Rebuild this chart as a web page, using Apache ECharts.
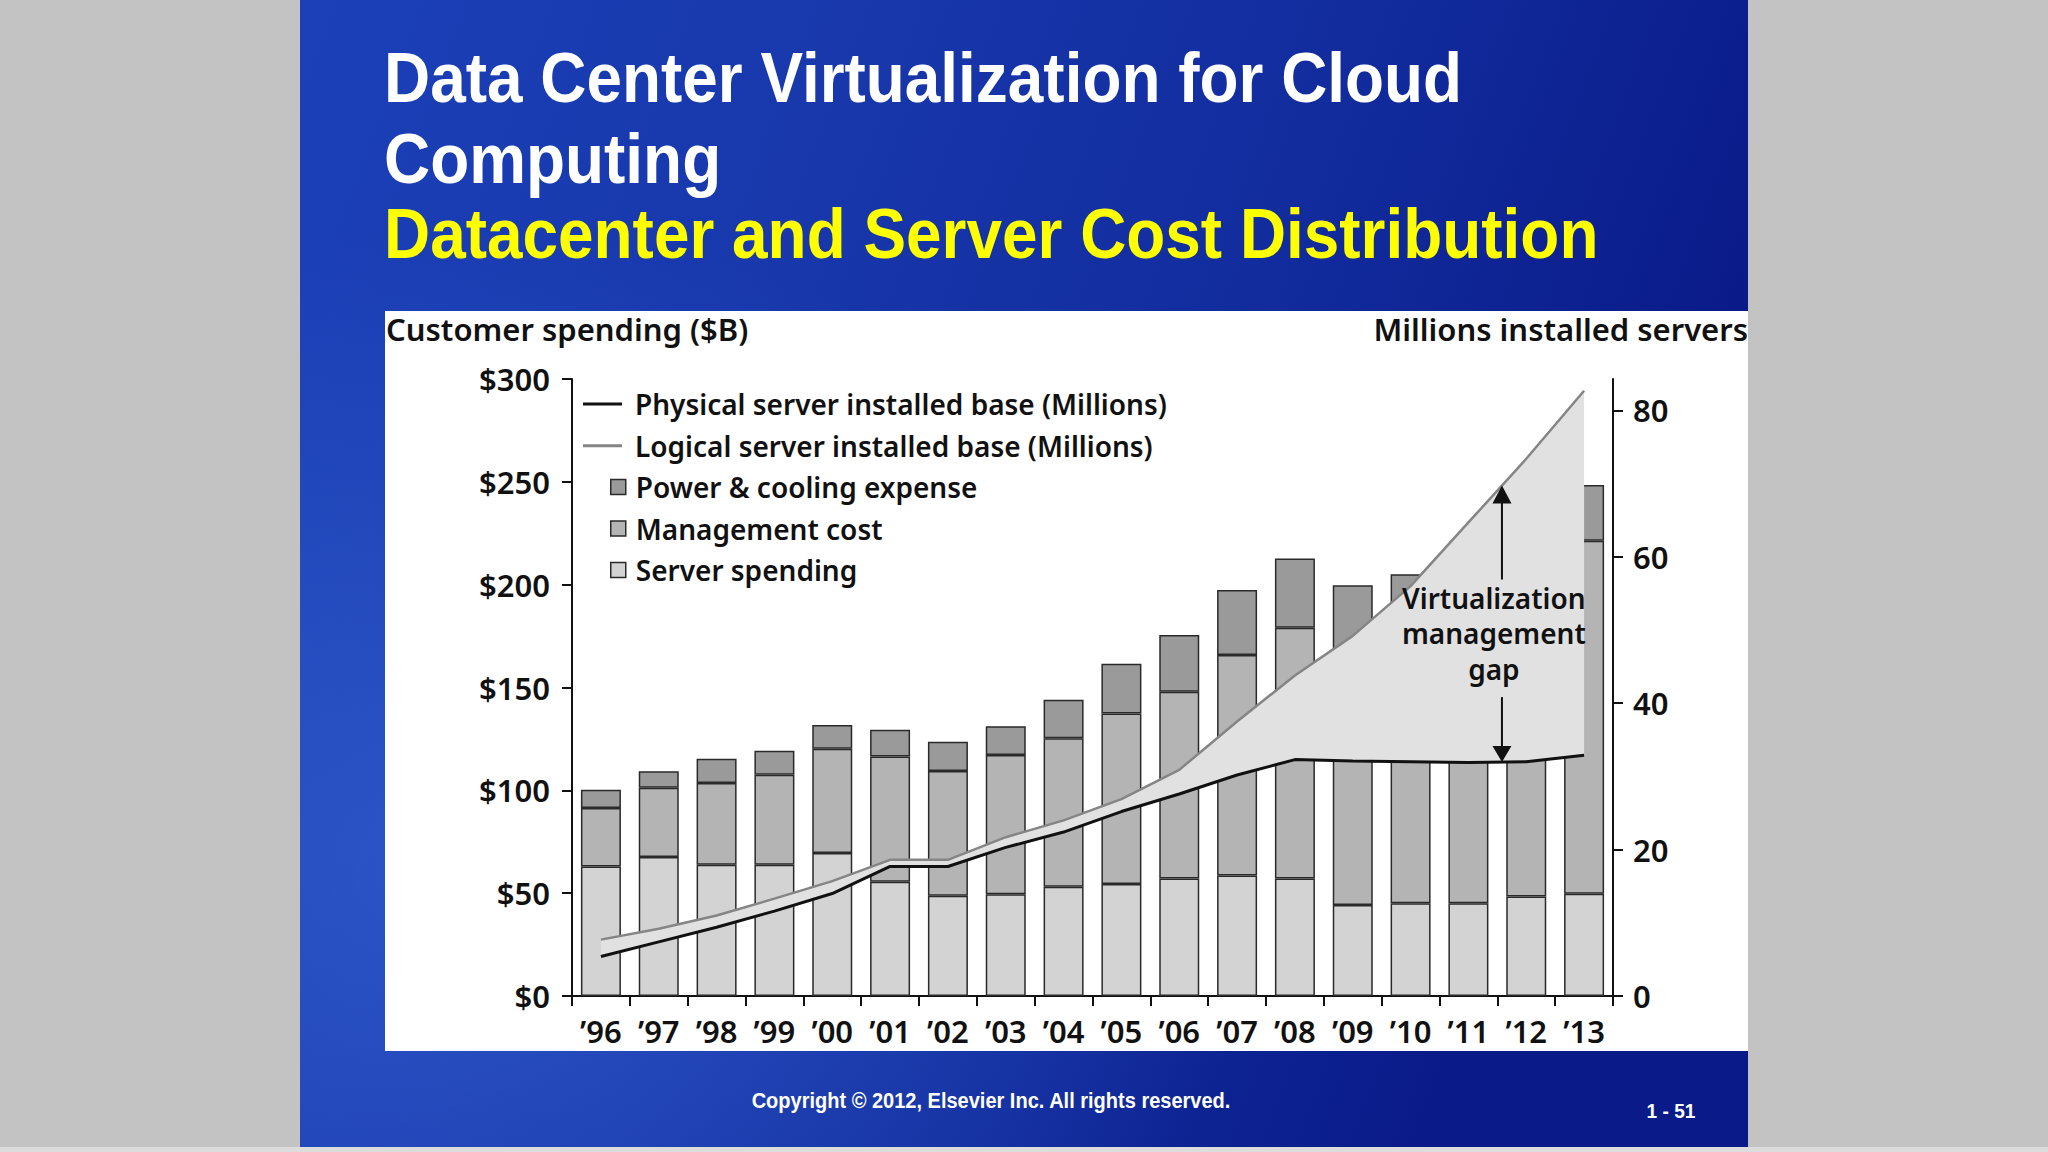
<!DOCTYPE html>
<html><head><meta charset="utf-8">
<script src="https://cdn.jsdelivr.net/npm/echarts@6/dist/echarts.min.js"></script>
<style>html,body{margin:0;padding:0;background:#c3c3c3;overflow:hidden}#c{width:2048px;height:1152px}</style>
</head><body><div id="c"></div>
<script>
// ---- data ----
const categories = ['’96','’97','’98','’99','’00','’01','’02','’03','’04','’05','’06','’07','’08','’09','’10','’11','’12','’13'];
const serverSpending = [63.0, 67.6, 63.8, 63.8, 69.5, 55.5, 48.7, 49.5, 53.1, 54.5, 57.1, 58.6, 57.1, 44.2, 45.1, 45.1, 48.4, 49.7];
const managementCost = [28.4, 33.6, 39.8, 43.8, 50.7, 60.9, 60.7, 67.7, 72.2, 82.9, 90.8, 107.2, 122.0, 123.8, 126.9, 132.9, 147.6, 171.6];
const powerCooling = [8.9, 8.1, 11.7, 11.7, 11.6, 13.0, 14.2, 14.0, 18.7, 24.1, 27.6, 31.6, 33.6, 31.7, 33.1, 34.0, 32.0, 27.1];
const physicalServers = [5.4, 7.4, 9.4, 11.6, 14.0, 17.7, 17.7, 20.3, 22.4, 25.2, 27.6, 30.2, 32.3, 32.1, 32.0, 31.9, 32.0, 32.9];
const logicalServers = [7.7, 9.2, 11.0, 13.3, 15.7, 18.6, 18.6, 21.7, 24.0, 26.9, 30.9, 37.5, 43.8, 49.2, 56.0, 64.7, 73.4, 82.7];
const leftTicks = [0, 50, 100, 150, 200, 250, 300];
const rightTicks = [0, 20, 40, 60, 80];

const NAME_PHYS = 'Physical server installed base (Millions)';
const NAME_LOG = 'Logical server installed base (Millions)';
const NAME_POW = 'Power & cooling expense';
const NAME_MGMT = 'Management cost';
const NAME_SRV = 'Server spending';

const FF = '"Noto Sans", "Open Sans", sans-serif';
const SLIDE_FF = '"Liberation Sans", Arial, sans-serif';
const INK = '#111111';
const BORDER = '#2a2a2a';

const chart = echarts.init(document.getElementById('c'), null, {renderer: 'svg', width: 2048, height: 1152});

const axisLineStyle = {color: INK, width: 2};
const barBase = {type: 'bar', stack: 'cost', barWidth: 40, z: 2};
const legendText = {fontFamily: FF, fontSize: 28, fontWeight: 600, color: INK, lineHeight: 32};

const option = {
  backgroundColor: '#c3c3c3',
  animation: false,
  grid: {left: 572, right: 435, top: 379, bottom: 156, containLabel: false},
  legend: [
    {
      data: [{name: NAME_PHYS, icon: 'rect'}, {name: NAME_LOG, icon: 'rect'}],
      orient: 'vertical', left: 583, top: 388, padding: 0,
      itemWidth: 39, itemHeight: 3, itemGap: 9.7, selectedMode: false,
      textStyle: Object.assign({padding: [0, 0, 0, 8]}, legendText)
    },
    {
      data: [NAME_POW, NAME_MGMT, NAME_SRV], orient: 'vertical', left: 610, top: 471, padding: 0,
      itemWidth: 15, itemHeight: 15, itemGap: 9.5, icon: 'rect', selectedMode: false,
      itemStyle: {borderColor: BORDER, borderWidth: 1.5},
      textStyle: Object.assign({padding: [0, 0, 0, 5]}, legendText)
    }
  ],
  xAxis: {
    type: 'category', data: categories, boundaryGap: true,
    axisLine: {lineStyle: axisLineStyle},
    axisTick: {show: true, alignWithLabel: false, length: 10, lineStyle: axisLineStyle},
    axisLabel: {fontFamily: FF, fontSize: 31, fontWeight: 600, color: INK, margin: 19, interval: 0},
    splitLine: {show: false}
  },
  yAxis: [
    {
      type: 'value', min: 0, max: 300, interval: 50, position: 'left',
      axisLine: {show: true, lineStyle: axisLineStyle},
      axisTick: {show: true, length: 10, lineStyle: axisLineStyle},
      axisLabel: {fontFamily: FF, fontSize: 31, fontWeight: 600, color: INK, margin: 22, formatter: v => '$' + v},
      splitLine: {show: false}
    },
    {
      type: 'value', min: 0, max: 84.3, interval: 20, position: 'right',
      axisLine: {show: true, lineStyle: axisLineStyle},
      axisTick: {show: true, length: 10, lineStyle: axisLineStyle, customValues: rightTicks},
      axisLabel: {fontFamily: FF, fontSize: 31, fontWeight: 600, color: INK, margin: 20, customValues: rightTicks},
      splitLine: {show: false}
    }
  ],
  series: [
    Object.assign({}, barBase, {name: NAME_SRV, data: serverSpending,
      itemStyle: {color: '#d3d3d3', borderColor: BORDER, borderWidth: 1.5}}),
    Object.assign({}, barBase, {name: NAME_MGMT, data: managementCost,
      itemStyle: {color: '#b4b4b4', borderColor: BORDER, borderWidth: 1.5}}),
    Object.assign({}, barBase, {name: NAME_POW, data: powerCooling,
      itemStyle: {color: '#9a9a9a', borderColor: BORDER, borderWidth: 1.5}}),
    {
      type: 'custom', name: 'gap', xAxisIndex: 0, yAxisIndex: 1, z: 3, silent: true,
      data: categories.map((c, i) => [i, logicalServers[i]]),
      encode: {x: 0, y: 1},
      renderItem: function (params, api) {
        if (params.dataIndex !== 0) return null;
        const pts = [];
        for (let i = 0; i < categories.length; i++) pts.push(api.coord([i, logicalServers[i]]));
        for (let i = categories.length - 1; i >= 0; i--) pts.push(api.coord([i, physicalServers[i]]));
        return {type: 'polygon', shape: {points: pts}, style: {fill: '#e1e1e1', stroke: null}};
      }
    },
    {
      type: 'line', name: NAME_LOG, yAxisIndex: 1, data: logicalServers, z: 4,
      symbol: 'none', showSymbol: false,
      lineStyle: {color: '#858585', width: 2.5}, itemStyle: {color: '#858585'}
    },
    {
      type: 'line', name: NAME_PHYS, yAxisIndex: 1, data: physicalServers, z: 5,
      symbol: 'none', showSymbol: false,
      lineStyle: {color: '#111111', width: 3}, itemStyle: {color: '#111111'}
    }
  ]
};

chart.setOption(option);

// ---- decoration (slide background, titles, annotation) ----
const shadow = {shadowColor: 'rgba(0,0,20,0.85)', shadowOffsetX: 3, shadowOffsetY: 3, shadowBlur: 3};
const elements = [
  {type: 'rect', id: 'slide', z: -20, shape: {x: 300, y: 0, width: 1448, height: 1147},
    style: {fill: new echarts.graphic.LinearGradient(0, 0, 1, 0.3, [
      {offset: 0, color: '#1b40b8'}, {offset: 0.35, color: '#1838ac'},
      {offset: 0.7, color: '#112b9c'}, {offset: 1, color: '#0a1a88'}])}},
  {type: 'rect', id: 'glow', z: -19, shape: {x: 300, y: 0, width: 1448, height: 1147},
    style: {fill: new echarts.graphic.RadialGradient(0.12, 0.75, 0.55, [
      {offset: 0, color: 'rgba(70,120,230,0.45)'}, {offset: 1, color: 'rgba(70,120,230,0)'}])}},
  {type: 'rect', id: 'bottomstrip', z: -19, shape: {x: 0, y: 1147, width: 2048, height: 5}, style: {fill: '#dcdcdc'}},
  {type: 'rect', id: 'panel', z: -18, shape: {x: 385, y: 311, width: 1363, height: 740}, style: {fill: '#ffffff'}},
  {type: 'text', id: 't1', x: 384, y: 77, scaleX: 0.913, z: 10,
    style: Object.assign({text: 'Data Center Virtualization for Cloud', fill: '#ffffff', font: 'bold 70px ' + SLIDE_FF, verticalAlign: 'middle'}, shadow)},
  {type: 'text', id: 't2', x: 384, y: 158, scaleX: 0.913, z: 10,
    style: Object.assign({text: 'Computing', fill: '#ffffff', font: 'bold 70px ' + SLIDE_FF, verticalAlign: 'middle'}, shadow)},
  {type: 'text', id: 't3', x: 384, y: 233, scaleX: 0.913, z: 10,
    style: Object.assign({text: 'Datacenter and Server Cost Distribution', fill: '#ffff00', font: 'bold 70px ' + SLIDE_FF, verticalAlign: 'middle'}, shadow)},
  {type: 'text', id: 'copy', x: 991, y: 1100, scaleX: 0.91, z: 10,
    style: {text: 'Copyright © 2012, Elsevier Inc. All rights reserved.', fill: '#ffffff', font: 'bold 22px ' + SLIDE_FF, align: 'center', verticalAlign: 'middle'}},
  {type: 'text', id: 'page', x: 1671, y: 1111, scaleX: 0.91, z: 10,
    style: {text: '1 - 51', fill: '#ffffff', font: 'bold 21px ' + SLIDE_FF, align: 'center', verticalAlign: 'middle'}},
  {type: 'text', id: 'ytitle', x: 386, y: 329, z: 10,
    style: {text: 'Customer spending ($B)', fill: INK, font: '600 31px ' + FF, align: 'left', verticalAlign: 'middle'}},
  {type: 'text', id: 'y2title', x: 1748, y: 329, z: 10,
    style: {text: 'Millions installed servers', fill: INK, font: '600 31px ' + FF, align: 'right', verticalAlign: 'middle'}}
];

// annotation placed from the data through the axes
const iA = 15, iB = 16;
const xA = chart.convertToPixel({xAxisIndex: 0}, categories[iA]);
const xB = chart.convertToPixel({xAxisIndex: 0}, categories[iB]);
const fArrow = 0.58, fText = 0.44;
const arrowX = xA + fArrow * (xB - xA);
const textX = xA + fText * (xB - xA);
const logAt = logicalServers[iA] + fArrow * (logicalServers[iB] - logicalServers[iA]);
const physAt = physicalServers[iA] + fArrow * (physicalServers[iB] - physicalServers[iA]);
const T = chart.convertToPixel({yAxisIndex: 1}, logAt);
const B = chart.convertToPixel({yAxisIndex: 1}, physAt);
const lineCol = '#111';
elements.push(
  {type: 'line', id: 'upShaft', z: 20, shape: {x1: arrowX, y1: T + 16, x2: arrowX, y2: T + 94}, style: {stroke: lineCol, lineWidth: 2}},
  {type: 'polygon', id: 'upHead', z: 20, shape: {points: [[arrowX, T], [arrowX - 9.5, T + 18], [arrowX + 9.5, T + 18]]}, style: {fill: lineCol}},
  {type: 'line', id: 'dnShaft', z: 20, shape: {x1: arrowX, y1: B - 65, x2: arrowX, y2: B - 14}, style: {stroke: lineCol, lineWidth: 2}},
  {type: 'polygon', id: 'dnHead', z: 20, shape: {points: [[arrowX, B], [arrowX - 9.5, B - 16], [arrowX + 9.5, B - 16]]}, style: {fill: lineCol}},
  {type: 'text', id: 'gapText', z: 20, x: textX, y: T + 112 - 17.75,
    style: {text: 'Virtualization\nmanagement\ngap', fill: INK, font: '600 28px ' + FF, lineHeight: 35.5, align: 'center', verticalAlign: 'top'}}
);

chart.setOption({graphic: {elements: elements}});
</script>
</body></html>
